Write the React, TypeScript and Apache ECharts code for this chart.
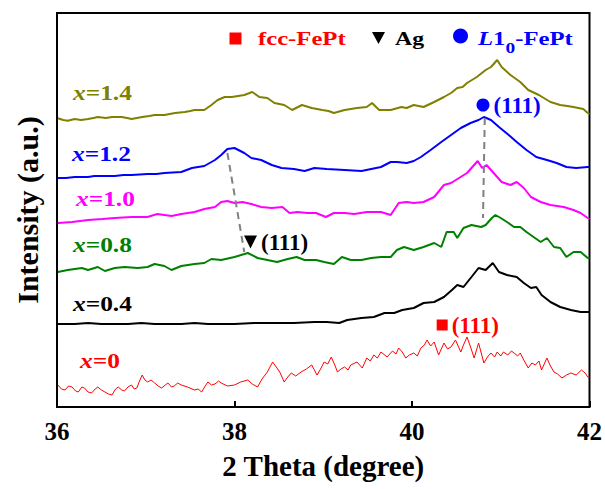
import React, { useEffect, useRef } from "react";
import * as echarts from "echarts";

// ---------- data ----------
const X_MIN = 36;
const X_MAX = 42;
const X_STEP = 2;
const Y_MIN = 0;
const Y_MAX = 394;

const sampleX = ["1.4", "1.2", "1.0", "0.8", "0.4", "0"];

// [2theta (deg), intensity (a.u., offset)]
const curve14 = [
  [36.01, 288.7], [36.07, 287], [36.12, 286.3], [36.2, 288], [36.27, 287], [36.35, 288], [36.41, 289], [36.46, 290],
  [36.55, 289], [36.62, 290], [36.73, 290], [36.79, 289], [36.84, 288], [36.9, 289], [36.96, 290], [37.04, 291],
  [37.1, 292], [37.21, 292], [37.27, 293], [37.33, 294], [37.44, 295], [37.5, 296], [37.55, 297], [37.66, 297],
  [37.74, 302], [37.81, 307], [37.89, 310], [37.97, 310], [38.04, 311], [38.11, 312], [38.2, 315], [38.28, 310],
  [38.37, 309], [38.45, 304], [38.56, 302], [38.65, 297], [38.76, 302], [38.87, 299], [38.99, 297], [39.06, 296],
  [39.12, 294], [39.24, 297], [39.38, 299], [39.49, 300], [39.55, 304], [39.63, 297], [39.76, 297], [39.88, 300],
  [39.94, 299], [40.02, 302], [40.13, 300], [40.25, 305], [40.36, 310], [40.44, 314], [40.51, 319], [40.57, 320],
  [40.62, 324], [40.73, 330], [40.83, 337], [40.89, 340], [40.96, 347], [41.01, 340], [41.11, 332], [41.22, 325],
  [41.31, 317], [41.43, 312], [41.56, 305], [41.67, 302], [41.75, 301], [41.82, 300], [41.93, 298], [41.98, 294],
  [42.0, 293]
];

const curve12 = [
  [36.01, 229], [36.1, 229], [36.2, 230], [36.35, 230], [36.42, 231], [36.51, 231], [36.65, 231], [36.75, 232],
  [36.84, 232], [37.02, 233], [37.12, 233], [37.21, 234], [37.4, 235], [37.52, 239], [37.66, 241], [37.78, 247],
  [37.85, 252], [37.92, 258], [38.0, 259], [38.11, 254], [38.19, 249], [38.3, 247], [38.42, 242], [38.53, 239],
  [38.67, 238], [38.79, 236], [38.9, 239], [39.04, 238], [39.24, 237], [39.43, 236], [39.54, 238], [39.65, 240],
  [39.76, 245], [39.83, 245], [39.94, 244], [40.02, 246], [40.1, 250], [40.21, 257], [40.33, 265], [40.44, 272],
  [40.55, 279], [40.66, 284], [40.75, 287], [40.81, 290], [40.89, 287], [40.98, 280], [41.09, 272], [41.18, 265],
  [41.29, 257], [41.4, 250], [41.52, 247], [41.63, 244], [41.74, 240], [41.85, 239], [41.98, 240], [42.0, 240]
];

const curve10 = [
  [36.01, 184], [36.17, 185], [36.35, 187], [36.51, 188], [36.65, 189], [36.84, 190], [37.02, 190], [37.13, 193],
  [37.29, 191], [37.4, 193], [37.55, 195], [37.66, 198], [37.78, 200], [37.85, 205], [37.92, 206], [38.0, 204],
  [38.09, 205], [38.19, 203], [38.3, 200], [38.42, 199], [38.54, 200], [38.62, 194], [38.71, 195], [38.82, 194],
  [38.92, 194], [39.03, 190], [39.12, 194], [39.24, 194], [39.35, 193], [39.49, 195], [39.65, 195], [39.76, 192],
  [39.85, 204], [39.94, 205], [40.02, 204], [40.13, 205], [40.25, 210], [40.36, 222], [40.44, 224], [40.53, 229],
  [40.62, 234], [40.7, 242], [40.74, 246], [40.79, 239], [40.84, 242], [40.92, 234], [41.01, 225], [41.11, 222],
  [41.18, 225], [41.26, 219], [41.34, 210], [41.45, 205], [41.56, 202], [41.71, 200], [41.82, 197], [41.9, 194],
  [41.98, 189], [42.0, 188]
];

const curve08 = [
  [36.01, 135], [36.12, 137], [36.28, 139], [36.35, 137], [36.46, 140], [36.54, 136], [36.65, 139], [36.76, 140],
  [36.91, 139], [37.02, 140], [37.1, 143], [37.21, 141], [37.29, 137], [37.4, 141], [37.55, 143], [37.66, 144],
  [37.74, 148], [37.85, 147], [38.0, 150], [38.15, 154], [38.26, 149], [38.37, 147], [38.48, 145], [38.6, 148],
  [38.7, 150], [38.79, 147], [38.92, 147], [39.01, 145], [39.12, 143], [39.21, 150], [39.31, 147], [39.43, 147],
  [39.54, 149], [39.65, 150], [39.76, 150], [39.83, 157], [39.91, 160], [40.02, 157], [40.13, 160], [40.25, 164],
  [40.33, 160], [40.39, 175], [40.47, 175], [40.51, 169], [40.58, 179], [40.67, 182], [40.78, 180], [40.83, 182],
  [40.9, 189], [40.94, 192], [41.0, 189], [41.07, 185], [41.15, 180], [41.22, 180], [41.29, 175], [41.37, 170],
  [41.45, 165], [41.52, 169], [41.6, 160], [41.67, 159], [41.74, 150], [41.82, 155], [41.9, 155], [41.98, 149],
  [42.0, 149]
];

const curve04 = [
  [36.01, 83], [36.2, 83], [36.35, 84], [36.5, 83], [36.8, 83], [36.95, 84], [37.1, 83], [37.4, 83], [37.55, 84],
  [37.7, 83], [38.0, 83], [38.22, 84], [38.45, 84], [38.67, 84], [38.9, 85], [39.04, 85], [39.18, 84], [39.27, 87],
  [39.43, 89], [39.57, 90], [39.69, 94], [39.8, 94], [39.89, 97], [40.02, 99], [40.13, 104], [40.25, 105],
  [40.36, 110], [40.45, 117], [40.51, 122], [40.58, 120], [40.67, 130], [40.75, 139], [40.83, 137], [40.91, 144],
  [40.98, 135], [41.07, 132], [41.18, 130], [41.26, 124], [41.34, 119], [41.4, 120], [41.46, 112], [41.56, 105],
  [41.67, 100], [41.79, 97], [41.9, 95], [41.98, 95], [42.0, 95]
];

const curve00 = [
  [36.01, 22], [36.05, 18], [36.09, 17], [36.13, 21], [36.17, 20], [36.21, 16], [36.24, 15], [36.28, 20],
  [36.31, 19], [36.35, 15], [36.39, 14], [36.43, 18], [36.46, 20], [36.5, 17], [36.54, 15], [36.58, 13],
  [36.62, 12], [36.66, 18], [36.69, 20], [36.73, 17], [36.76, 16], [36.8, 20], [36.84, 22], [36.87, 18],
  [36.9, 19], [36.93, 26], [36.96, 32], [36.99, 27], [37.02, 25], [37.06, 27], [37.1, 24], [37.14, 21],
  [37.18, 19], [37.22, 22], [37.25, 24], [37.29, 20], [37.32, 21], [37.36, 24], [37.4, 22], [37.47, 20],
  [37.55, 17], [37.59, 18], [37.63, 15], [37.67, 21], [37.7, 25], [37.74, 22], [37.78, 23], [37.82, 26],
  [37.85, 24], [37.92, 21], [38.0, 22], [38.07, 25], [38.15, 27], [38.2, 23], [38.26, 20], [38.31, 28],
  [38.37, 35], [38.43, 45], [38.47, 40], [38.51, 35], [38.56, 25], [38.6, 30], [38.64, 34], [38.69, 31],
  [38.75, 35], [38.81, 38], [38.87, 42], [38.93, 32], [38.97, 38], [39.01, 45], [39.05, 43], [39.09, 50],
  [39.13, 42], [39.16, 35], [39.2, 38], [39.24, 40], [39.28, 37], [39.31, 42], [39.38, 45], [39.44, 39],
  [39.49, 49], [39.53, 46], [39.57, 52], [39.61, 49], [39.65, 55], [39.72, 50], [39.78, 56], [39.82, 53],
  [39.85, 59], [39.89, 55], [39.93, 49], [39.97, 52], [40.02, 54], [40.06, 51], [40.1, 59], [40.14, 62],
  [40.17, 67], [40.21, 61], [40.25, 65], [40.3, 52], [40.36, 64], [40.4, 58], [40.44, 60], [40.49, 67],
  [40.55, 55], [40.58, 62], [40.62, 70], [40.66, 60], [40.7, 49], [40.75, 64], [40.81, 44], [40.85, 50],
  [40.89, 54], [40.93, 50], [40.96, 55], [41.0, 51], [41.03, 55], [41.08, 52], [41.12, 56], [41.15, 54],
  [41.19, 51], [41.22, 54], [41.26, 47], [41.31, 39], [41.35, 44], [41.39, 42], [41.43, 46], [41.46, 37],
  [41.52, 49], [41.56, 41], [41.6, 35], [41.64, 33], [41.69, 29], [41.74, 32], [41.79, 34], [41.85, 32],
  [41.91, 37], [41.95, 34], [41.98, 30], [42.0, 30]
];

const curves = [curve14, curve12, curve10, curve08, curve04, curve00];

// guide lines (peak shifts)
const agGuide = [[37.92, 254], [38.11, 155]];
const l10Guide = [[40.82, 289], [40.8, 189]];

// peak markers: [2theta, intensity]
const l10Peak = [40.8, 302];
const agPeak = [38.18, 165];
const fccPeak = [40.34, 82];
const peakLabel = "(111)";

const legendNames = ["fcc-FePt", "Ag", "L1₀-FePt"];

// ---------- styles ----------
const FONT = "'Liberation Serif', 'Times New Roman', serif";
const curveColors = ["#808000", "#0000ff", "#ff00ff", "#008000", "#000000", "#ff0000"];
const labelPos = [
  [73, 93], [72, 154], [76, 199], [73, 245], [73, 304], [80, 361]
];

export default function App() {
  const ref = useRef<HTMLDivElement>(null);
  useEffect(() => {
    if (!ref.current) return;
    const chart = echarts.init(ref.current, undefined, { renderer: "svg" });

    const lineSeries = curves.map((c, i) => ({
      type: "line",
      name: "x=" + sampleX[i],
      data: c,
      symbol: "none",
      showSymbol: false,
      silent: true,
      z: 2,
      lineStyle: { color: curveColors[i], width: i === 5 ? 1 : 2 },
    }));

    const guideStyle = { color: "#808080", width: 2, type: [7, 5] };
    const peakRich = (color: string) => ({
      p: { color, fontFamily: FONT, fontWeight: "bold", fontSize: 23 },
    });

    const curveLabels = sampleX.map((v, i) => ({
      type: "text",
      x: labelPos[i][0],
      y: labelPos[i][1],
      scaleX: 1.27,
      style: {
        text: "{i|x}{b|=" + v + "}",
        fill: curveColors[i],
        fontFamily: FONT,
        fontSize: 20,
        fontWeight: "bold",
        verticalAlign: "middle",
        rich: {
          i: { fontStyle: "italic", fontWeight: "bold", fontSize: 20, fontFamily: FONT, fill: curveColors[i] },
          b: { fontWeight: "bold", fontSize: 20, fontFamily: FONT, fill: curveColors[i] },
        },
      },
    }));

    const legendGraphics = [
      { type: "rect", shape: { x: 229.5, y: 32.5, width: 12, height: 12 }, style: { fill: "#ff0000" } },
      {
        type: "text", x: 258, y: 38.5, scaleX: 1.3,
        style: { text: legendNames[0], fill: "#ff0000", fontFamily: FONT, fontSize: 19, fontWeight: "bold", verticalAlign: "middle" },
      },
      { type: "polygon", shape: { points: [[372, 32], [385, 32], [378.5, 44]] }, style: { fill: "#000000" } },
      {
        type: "text", x: 395, y: 38.5, scaleX: 1.25,
        style: { text: legendNames[1], fill: "#000000", fontFamily: FONT, fontSize: 19, fontWeight: "bold", verticalAlign: "middle" },
      },
      { type: "circle", shape: { cx: 460.5, cy: 36, r: 7.5 }, style: { fill: "#0000ff" } },
      {
        type: "text", x: 478, y: 38.5, scaleX: 1.3,
        style: {
          text: "{l|L}{n|1}{s|0}{n|-FePt}",
          fill: "#0000ff",
          fontFamily: FONT,
          fontSize: 19,
          fontWeight: "bold",
          verticalAlign: "middle",
          rich: {
            l: { fontStyle: "italic", fontWeight: "bold", fontSize: 19, fontFamily: FONT, fill: "#0000ff", lineHeight: 34, verticalAlign: "middle" },
            n: { fontWeight: "bold", fontSize: 19, fontFamily: FONT, fill: "#0000ff", lineHeight: 34, verticalAlign: "middle" },
            s: { fontWeight: "bold", fontSize: 15, fontFamily: FONT, fill: "#0000ff", lineHeight: 14, verticalAlign: "bottom" },
          },
        },
      },
    ];

    const peakItem = (value: number[], symbol: string, size: number, color: string, rotate = 0) => ({
      value,
      symbol,
      symbolSize: size,
      symbolRotate: rotate,
      itemStyle: { color, opacity: 1 },
      label: {
        show: true,
        position: "right",
        distance: 4,
        opacity: 1,
        formatter: "{p|" + peakLabel + "}",
        rich: peakRich(color),
      },
    });

    chart.setOption({
      animation: false,
      grid: {
        left: 57, right: 15, top: 13, bottom: 82,
        show: true, borderColor: "#000", borderWidth: 2, backgroundColor: "transparent",
      },
      xAxis: {
        type: "value",
        min: X_MIN, max: X_MAX, interval: X_STEP,
        axisLine: { show: false },
        axisTick: { show: true, inside: true, length: 6, lineStyle: { color: "#000", width: 2 } },
        splitLine: { show: false },
        axisLabel: { color: "#000", fontFamily: FONT, fontWeight: "bold", fontSize: 25, margin: 12 },
        name: "2 Theta (degree)",
        nameLocation: "middle",
        nameGap: 44,
        nameTextStyle: { color: "#000", fontFamily: FONT, fontWeight: "bold", fontSize: 29 },
      },
      yAxis: {
        type: "value",
        min: Y_MIN, max: Y_MAX,
        axisLine: { show: false },
        axisTick: { show: false },
        axisLabel: { show: false },
        splitLine: { show: false },
        name: "Intensity (a.u.)",
        nameLocation: "middle",
        nameGap: 15,
        nameTextStyle: { color: "#000", fontFamily: FONT, fontWeight: "bold", fontSize: 30 },
      },
      series: [
        ...lineSeries,
        { type: "line", data: agGuide, symbol: "none", silent: true, z: 3, lineStyle: guideStyle },
        { type: "line", data: l10Guide, symbol: "none", silent: true, z: 3, lineStyle: guideStyle },
        {
          type: "scatter",
          silent: true,
          z: 4,
          itemStyle: { opacity: 1 },
          label: { show: true, position: "right", fontFamily: FONT, fontWeight: "bold", fontSize: 23 },
          data: [
            peakItem(l10Peak, "circle", 13, "#0000ff"),
            peakItem(agPeak, "triangle", 13, "#000000", 180),
            peakItem(fccPeak, "rect", 11, "#ff0000"),
          ],
        },
      ],
      graphic: [...curveLabels, ...legendGraphics],
    });
    return () => chart.dispose();
  }, []);
  return (
    <div
      ref={ref}
      style={{ position: "fixed", left: 0, top: 0, width: 605, height: 489, background: "#fff" }}
    />
  );
}
